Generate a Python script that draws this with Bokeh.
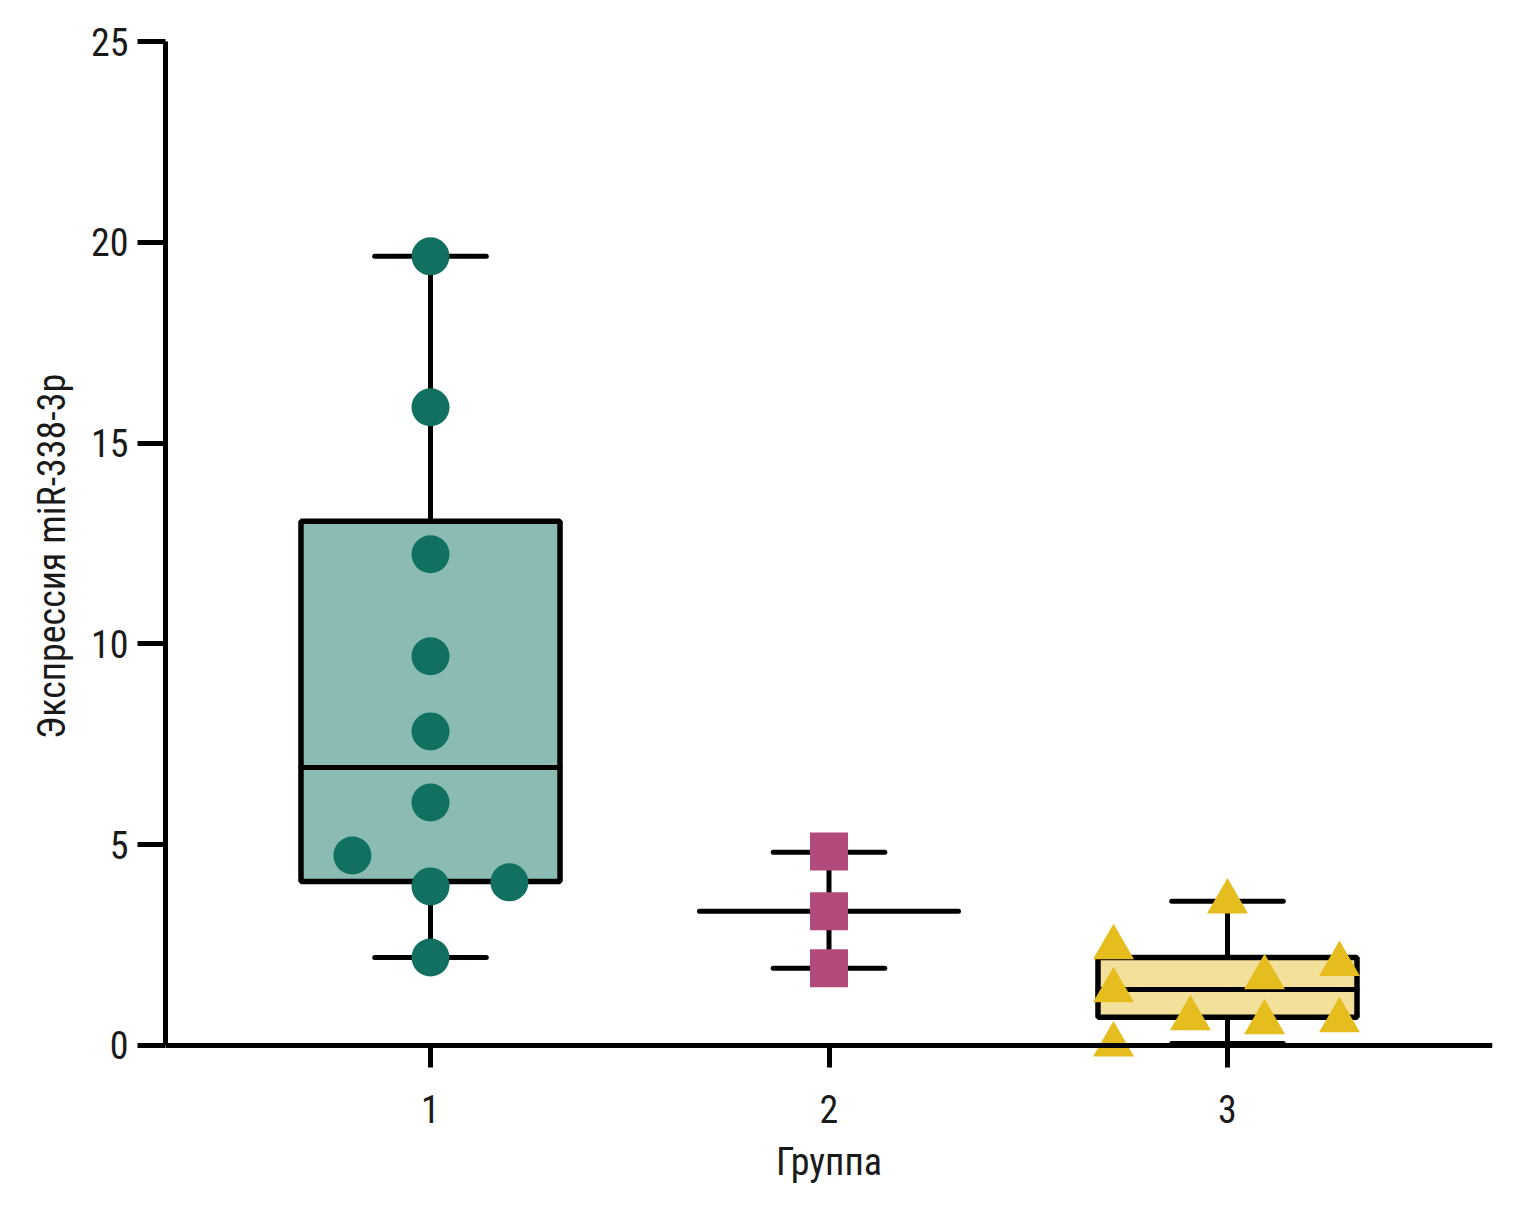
from bokeh.plotting import figure
from bokeh.models import LinearAxis, FixedTicker, Range1d
from bokeh.embed import file_html
from bokeh.resources import INLINE

# ---- data ----
groups = [1, 2, 3]
group_labels = ["1", "2", "3"]

g1_values = [19.65, 15.89, 12.23, 9.69, 7.82, 6.05, 4.73, 3.96, 4.06, 2.19]
g1_jitter = [0, 0, 0, 0, 0, 0, -0.196, 0, 0.198, 0]
g2_values = [4.83, 3.34, 1.92]
g2_jitter = [0, 0, 0]
g3_values = [3.58, 2.44, 1.37, 0.02, 0.67, 1.69, 0.57, 2.02, 0.62]
g3_jitter = [0, -0.286, -0.286, -0.286, -0.093, 0.093, 0.093, 0.281, 0.281]

box_q1 = [4.08, 3.34, 0.70]
box_median = [6.92, 3.34, 1.39]
box_q3 = [13.05, 3.34, 2.19]
whisker_low = [2.19, 1.92, 0.05]
whisker_high = [19.65, 4.81, 3.59]
has_box = [True, False, True]

y_ticks = [0, 5, 10, 15, 20, 25]
x_title = "Группа"
y_title = "Экспрессия miR-338-3p"

box_fill = ["#8bbcb4", None, "#f3e09b"]
FONT = "'Roboto Condensed', 'Liberation Sans Narrow', 'Roboto', sans-serif"
FS = "38px"

BOX_HALF = 0.325
CAP_HALF = 0.14

p = figure(width=1522, height=1198,
           x_range=Range1d(0.335, 3.665), y_range=Range1d(-0.65, 25),
           output_backend="svg", toolbar_location=None,
           x_axis_location=None, y_axis_location=None,
           min_border_left=165, min_border_top=41,
           min_border_right=30, min_border_bottom=127)
p.outline_line_color = None
p.grid.visible = False
p.background_fill_color = "white"

# y axis
yaxis = LinearAxis(ticker=FixedTicker(ticks=y_ticks), bounds=(0, 25),
                   axis_label=y_title)
yaxis.axis_line_width = 5
yaxis.axis_line_color = "black"
yaxis.major_tick_line_width = 5
yaxis.major_tick_line_color = "black"
yaxis.major_tick_out = 28
yaxis.major_tick_in = 0
yaxis.minor_tick_line_color = None
yaxis.major_label_text_font = FONT
yaxis.major_label_text_font_size = FS
yaxis.major_label_text_color = "#1a1a1a"
yaxis.major_label_standoff = 9
yaxis.axis_label_text_font = FONT
yaxis.axis_label_text_font_size = FS
yaxis.axis_label_text_font_style = "normal"
yaxis.axis_label_text_color = "#1a1a1a"
yaxis.axis_label_standoff = 14
p.add_layout(yaxis, "left")

# x axis line and ticks at y = 0
xaxis = LinearAxis(ticker=FixedTicker(ticks=groups), fixed_location=0)
xaxis.axis_line_width = 5
xaxis.axis_line_color = "black"
xaxis.major_tick_line_width = 5
xaxis.major_tick_line_color = "black"
xaxis.major_tick_out = 22
xaxis.major_tick_in = 0
xaxis.minor_tick_line_color = None
xaxis.major_label_text_color = None
p.add_layout(xaxis, "below")

# x tick labels and title
xlab = LinearAxis(ticker=FixedTicker(ticks=groups), axis_label=x_title)
xlab.major_label_overrides = {g: lab for g, lab in zip(groups, group_labels)}
xlab.axis_line_color = None
xlab.major_tick_line_color = None
xlab.minor_tick_line_color = None
xlab.major_tick_out = 0
xlab.major_tick_in = 0
xlab.major_label_text_font = FONT
xlab.major_label_text_font_size = FS
xlab.major_label_text_color = "#1a1a1a"
xlab.major_label_standoff = 23
xlab.axis_label_text_font = FONT
xlab.axis_label_text_font_size = FS
xlab.axis_label_text_font_style = "normal"
xlab.axis_label_text_color = "#1a1a1a"
xlab.axis_label_standoff = 14
p.add_layout(xlab, "below")

# boxes
bx = [g for g, b in zip(groups, has_box) if b]
p.quad(left=[g - BOX_HALF for g in bx], right=[g + BOX_HALF for g in bx],
       bottom=[q for q, b in zip(box_q1, has_box) if b],
       top=[q for q, b in zip(box_q3, has_box) if b],
       fill_color=[c for c, b in zip(box_fill, has_box) if b],
       line_color="black", line_width=5.5)

# whiskers
p.segment(x0=groups, x1=groups, y0=whisker_low, y1=box_q1, line_color="black", line_width=5)
p.segment(x0=groups, x1=groups, y0=box_q3, y1=whisker_high, line_color="black", line_width=5)
p.segment(x0=[g - CAP_HALF for g in groups], x1=[g + CAP_HALF for g in groups],
          y0=whisker_low, y1=whisker_low, line_color="black", line_width=5, line_cap="round")
p.segment(x0=[g - CAP_HALF for g in groups], x1=[g + CAP_HALF for g in groups],
          y0=whisker_high, y1=whisker_high, line_color="black", line_width=5, line_cap="round")
# medians
p.segment(x0=[g - BOX_HALF for g in groups], x1=[g + BOX_HALF for g in groups],
          y0=box_median, y1=box_median, line_color="black", line_width=5, line_cap="round")

# points
p.scatter(x=[groups[0] + j for j in g1_jitter], y=g1_values, marker="circle", size=38,
          fill_color="#11705f", line_color=None)
p.scatter(x=[groups[1] + j for j in g2_jitter], y=g2_values, marker="square", size=38,
          fill_color="#b24b7b", line_color=None)
p.scatter(x=[groups[2] + j for j in g3_jitter], y=g3_values, marker="triangle", size=41,
          fill_color="#e6bd1f", line_color=None)

open("out.html", "w").write(file_html(p, INLINE))
